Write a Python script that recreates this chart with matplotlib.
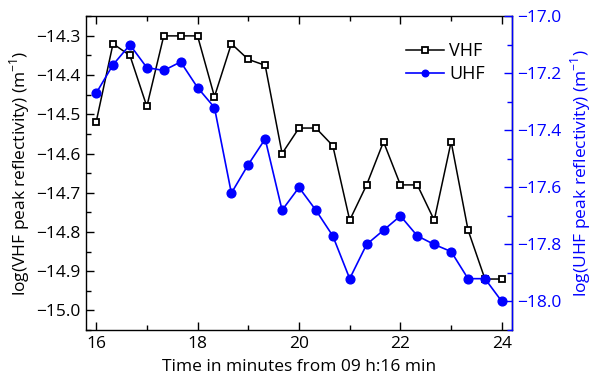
import matplotlib.pyplot as plt
from matplotlib.ticker import MultipleLocator, FuncFormatter

plt.rcParams['font.family'] = ['Open Sans', 'DejaVu Sans']
plt.rcParams['mathtext.fontset'] = 'custom'
plt.rcParams['mathtext.rm'] = 'Open Sans'

# time in minutes, one sample every 20 s
minutes = [16 + i / 3 for i in range(25)]

vhf = [-14.52, -14.32, -14.35, -14.48, -14.30, -14.30, -14.30, -14.455, -14.32,
       -14.36, -14.375, -14.60, -14.535, -14.535, -14.58, -14.77, -14.68, -14.57,
       -14.68, -14.68, -14.77, -14.57, -14.795, -14.92, -14.92]

uhf = [-17.27, -17.17, -17.10, -17.18, -17.19, -17.16, -17.25, -17.32, -17.62,
       -17.52, -17.43, -17.68, -17.60, -17.68, -17.77, -17.92, -17.80, -17.75,
       -17.70, -17.77, -17.80, -17.825, -17.92, -17.92, -18.00]

fs = 12.5
minus_fmt = FuncFormatter(lambda v, p: ('%.1f' % v).replace('-', '\u2212'))

fig = plt.figure(figsize=(5.95, 3.84), dpi=100)
ax = fig.add_axes([0.1445, 0.1406, 0.716, 0.817])
ax2 = ax.twinx()

l1, = ax.plot(minutes, vhf, color='black', lw=1.1, marker='s', ms=5,
              mfc='white', mec='black', mew=1.3, label='VHF', zorder=3)
l2, = ax2.plot(minutes, uhf, color='blue', lw=1.2, marker='o', ms=6.3,
               mfc='blue', mec='blue', label='UHF')

ax.set_xlim(15.8, 24.2)
ax.set_ylim(-15.05, -14.25)
ax2.set_ylim(-18.1, -17.0)

ax.xaxis.set_major_locator(MultipleLocator(2))
ax.xaxis.set_minor_locator(MultipleLocator(1))
ax.yaxis.set_major_locator(MultipleLocator(0.1))
ax.yaxis.set_minor_locator(MultipleLocator(0.05))
ax.yaxis.set_major_formatter(minus_fmt)
ax2.yaxis.set_major_locator(MultipleLocator(0.2))
ax2.yaxis.set_minor_locator(MultipleLocator(0.1))
ax2.yaxis.set_major_formatter(minus_fmt)

ax.tick_params(which='both', direction='in', top=True, right=False,
               labelsize=fs, width=1, pad=4)
ax.tick_params(which='major', length=6)
ax.tick_params(which='minor', length=3.5)
ax2.tick_params(which='both', direction='in', colors='blue', labelsize=fs,
                width=1, pad=4)
ax2.tick_params(which='major', length=6)
ax2.tick_params(which='minor', length=3.5)

for s in ax.spines.values():
    s.set_linewidth(1.0)
ax2.spines['right'].set_color('blue')
ax2.spines['right'].set_linewidth(1.0)
ax2.spines['left'].set_visible(False)
ax2.spines['top'].set_visible(False)
ax2.spines['bottom'].set_visible(False)

ax.set_xlabel('Time in minutes from 09 h:16 min', fontsize=fs, labelpad=5)
ax.set_ylabel('log(VHF peak reflectivity) (m$^{-1}$)', fontsize=fs, labelpad=3)
ax2.set_ylabel('log(UHF peak reflectivity) (m$^{-1}$)', fontsize=fs,
               color='blue', labelpad=5)

ax2.legend([l1, l2], ['VHF', 'UHF'], loc='upper right', frameon=False,
           fontsize=fs + 0.5, bbox_to_anchor=(0.975, 0.97), handlelength=2.1,
           handletextpad=0.3, labelspacing=0.3, markerscale=0.75)

fig.savefig('out.png', dpi=100)
